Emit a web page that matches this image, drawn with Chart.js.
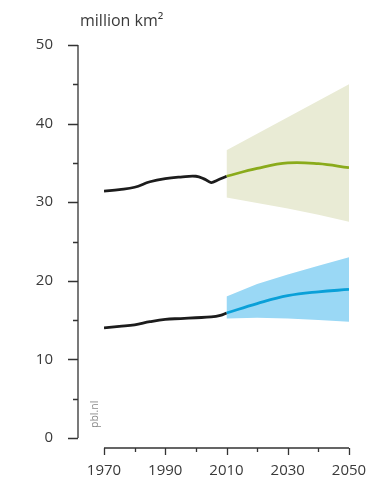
<!DOCTYPE html>
<html>
<head>
<meta charset="utf-8">
<script src="https://cdn.jsdelivr.net/npm/chart.js@4"></script>
<style>
  html, body { margin: 0; padding: 0; background: #fff; }
  #c { display: block; }
</style>
</head>
<body>
<canvas id="c" width="371" height="486"></canvas>
<script>
// ─── DATA ───────────────────────────────────────────────────────
const yearsHistTop = [1970, 1975, 1980, 1985, 1990, 1995, 2000, 2003, 2005, 2007, 2010];
const valuesHistTop = [31.4, 31.6, 31.9, 32.6, 33.0, 33.2, 33.3, 32.9, 32.5, 32.8, 33.3];

const yearsHistLow = [1970, 1975, 1980, 1985, 1990, 1995, 2000, 2005, 2008, 2010];
const valuesHistLow = [14.0, 14.2, 14.4, 14.8, 15.1, 15.2, 15.3, 15.4, 15.6, 15.9];

const yearsProj = [2010, 2020, 2030, 2040, 2050];
const greenMid  = [33.3, 34.3, 35.0, 34.9, 34.4];
const greenHigh = [36.6, 38.7, 40.8, 42.9, 45.0];
const greenLow  = [30.6, 29.9, 29.2, 28.4, 27.5];
const blueMid   = [15.9, 17.1, 18.1, 18.6, 18.9];
const blueHigh  = [18.0, 19.6, 20.8, 21.9, 23.0];
const blueLow   = [15.2, 15.3, 15.2, 15.0, 14.8];

const xLabels = [1970, 1990, 2010, 2030, 2050];
const yLabels = [0, 10, 20, 30, 40, 50];

// ─── PALETA ─────────────────────────────────────────────────────
const C = {
  ink:       "#1c1c1c",
  axis:      "#333333",
  text:      "#3a3a3a",
  green:     "#8aab1b",
  greenBand: "#e9ebd5",
  blue:      "#0aa0d8",
  blueBand:  "#9ad8f5",
  mark:      "#8a8a8a",
};

const FONT = "'Open Sans', 'DejaVu Sans', sans-serif";

const pts = (xs, ys) => xs.map((x, i) => ({ x, y: ys[i] }));

function line(data, color) {
  return { data, borderColor: color, borderWidth: 2.8, pointRadius: 0, tension: 0.4, fill: false };
}
function band(data, color, fill) {
  return { data, borderWidth: 0, borderColor: "transparent", backgroundColor: color,
           pointRadius: 0, tension: 0, fill };
}

// ─── EJES SEPARADOS (dibujados a mano desde las escalas) ───────
const detachedAxes = {
  id: "detachedAxes",
  afterDraw(chart) {
    const { ctx, chartArea, scales: { x, y } } = chart;
    const ax = chartArea.left - 26;
    const ay = chartArea.bottom + 10;
    ctx.save();
    ctx.strokeStyle = C.axis;
    ctx.lineWidth = 1.3;

    // eje Y
    ctx.beginPath();
    ctx.moveTo(ax, y.getPixelForValue(50));
    ctx.lineTo(ax, y.getPixelForValue(0));
    for (let v = 0; v <= 50; v += 5) {
      const py = Math.round(y.getPixelForValue(v)) + 0.5;
      ctx.moveTo(ax - (v % 10 === 0 ? 10 : 5), py);
      ctx.lineTo(ax, py);
    }
    // eje X
    ctx.moveTo(x.getPixelForValue(1970), ay);
    ctx.lineTo(x.getPixelForValue(2050), ay);
    for (let v = 1970; v <= 2050; v += 10) {
      const px = Math.round(x.getPixelForValue(v)) + 0.5;
      ctx.moveTo(px, ay);
      ctx.lineTo(px, ay + ((v - 1970) % 20 === 0 ? 7 : 4));
    }
    ctx.stroke();

    // título
    ctx.fillStyle = C.text;
    ctx.font = "16px " + FONT;
    ctx.textBaseline = "alphabetic";
    ctx.textAlign = "left";
    ctx.fillText("million km²", 80, 26);

    // marca pbl.nl
    ctx.translate(ax + 20, y.getPixelForValue(0) - 10);
    ctx.rotate(-Math.PI / 2);
    ctx.fillStyle = C.mark;
    ctx.font = "10.5px " + FONT;
    ctx.fillText("pbl.nl", 0, 0);
    ctx.restore();
  },
};

new Chart(document.getElementById("c"), {
  type: "line",
  data: {
    datasets: [
      line(pts(yearsHistTop, valuesHistTop), C.ink),
      line(pts(yearsHistLow, valuesHistLow), C.ink),
      line(pts(yearsProj, greenMid), C.green),
      line(pts(yearsProj, blueMid), C.blue),
      band(pts(yearsProj, greenHigh), C.greenBand, "+1"),
      band(pts(yearsProj, greenLow), C.greenBand, false),
      band(pts(yearsProj, blueHigh), C.blueBand, "+1"),
      band(pts(yearsProj, blueLow), C.blueBand, false),
    ],
  },
  options: {
    responsive: false,
    animation: false,
    layout: { padding: { top: 45, right: 22, left: 0, bottom: 0 } },
    plugins: { legend: { display: false }, tooltip: { enabled: false } },
    scales: {
      x: {
        type: "linear",
        min: 1970, max: 2050,
        grid: { display: false, drawTicks: false },
        border: { display: false },
        afterBuildTicks: s => { s.ticks = xLabels.map(v => ({ value: v })); },
        ticks: {
          padding: 24,
          color: C.text,
          font: { family: FONT, size: 15 },
          maxRotation: 0,
          autoSkip: false,
          callback: v => String(v),
        },
        afterFit: s => { s.height = 486 - 438; s.paddingLeft = 0; s.paddingRight = 0; },
      },
      y: {
        min: 0, max: 50,
        grid: { display: false, drawTicks: false },
        border: { display: false },
        afterBuildTicks: s => { s.ticks = yLabels.map(v => ({ value: v })); },
        ticks: {
          padding: 51,
          color: C.text,
          font: { family: FONT, size: 15 },
          callback: v => String(v),
        },
        afterFit: s => { s.width = 104; s.paddingTop = 0; s.paddingBottom = 0; },
      },
    },
  },
  plugins: [detachedAxes],
});
</script>
</body>
</html>
